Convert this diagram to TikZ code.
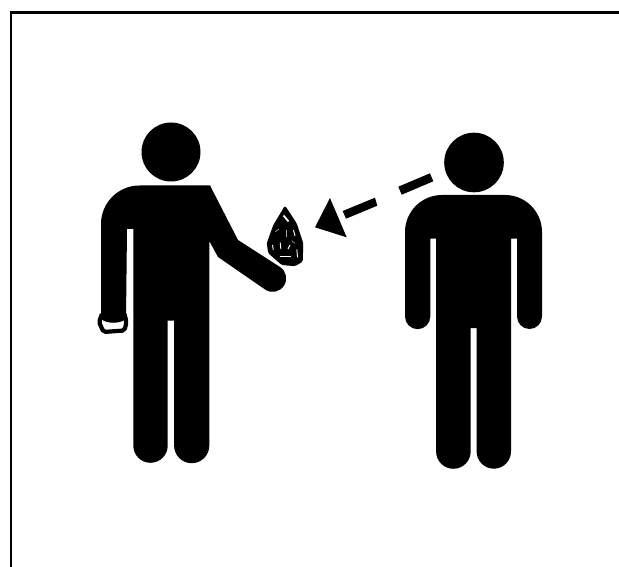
\documentclass[tikz,border=0pt]{standalone}
\tikzset{
  ink/.style={fill=black,draw=none},
  frameline/.style={draw=black,line width=2.6pt,line cap=butt,line join=miter},
  gemmark/.style={draw=white,line width=0.9pt,line cap=butt},
  faintmark/.style={draw=white!65!black,line width=0.6pt,line cap=butt},
  cuff/.style={draw=black,fill=white,line width=4.2pt,line join=round,rounded corners=2pt}
}
\begin{document}
\begin{tikzpicture}[x=1pt,y=-1pt]
\useasboundingbox (0,0) rectangle (619,567);
\fill[white] (0,0) rectangle (619,567);
% frame
\coordinate (fbl) at (10.8,567);
\coordinate (ftl) at (10.8,12.5);
\coordinate (ftr) at (619,12.5);
\draw[frameline] (fbl) -- (ftl) -- (ftr);
% left person
\fill[ink] (171,152) circle (29.5);
\draw[cuff] (102,314) -- (99,322) -- (103.5,332) -- (124.5,330.5) -- (126.5,322) -- (124.5,314);
\fill[ink] (101,224) arc[start angle=180,end angle=270,radius=38.5] -- (210,185.5)
  -- (238,240) -- (280,267)
  arc[start angle=-57,end angle=123,radius=13.5]
  -- (218,257) -- (209.3,241) -- (209.3,445.6)
  arc[start angle=0,end angle=180,radius=17.6]
  -- (174.1,320.7) -- (167.7,320.7) -- (167.7,445.6)
  arc[start angle=0,end angle=180,radius=17.2]
  -- (133.3,229) -- (127,229) -- (126,319)
  .. controls (120,324) and (107,324) .. (101,319) -- cycle;
% gem
\fill[ink,rounded corners=1.5pt] (285,205.5) -- (296.7,223.3) -- (303.3,243.3) -- (302.7,261.7) -- (295,266.2)
  -- (281.7,265) -- (268.3,253.3) -- (266.7,243.3) -- (273.3,225) -- cycle;
\draw[white,line width=1.8pt] (283.5,215.5) -- (288.5,221.5);
\draw[gemmark] (293.5,230) -- (295,236);
\draw[gemmark] (272.5,245) -- (273.3,250);
\draw[gemmark] (280.2,242.5) -- (280.8,249);
\draw[gemmark] (279.5,256) -- (291,256);
\draw[gemmark] (296.8,249.5) -- (297.6,257.5);
\draw[faintmark] (286.7,230) -- (286.7,236.5);
\draw[faintmark] (275,232) -- (279,229);
\draw[gemmark] (290,245) -- (288,249);
\draw[faintmark] (291.7,240.7) -- (295,243.3);
% arrow
\fill[ink] (330,198) -- (315,227.3) -- (346.7,237.3) -- cycle;
\fill[ink] (375,197.7) -- (377.3,205.7) -- (346,218.7) -- (342.7,211) -- cycle;
\fill[ink] (430,173.3) -- (433.3,181.3) -- (401.7,194.7) -- (398.3,186.7) -- cycle;
% right person
\fill[ink] (474,162.5) circle (29.8);
\fill[ink] (405,232) arc[start angle=180,end angle=270,radius=37] -- (505,195)
  arc[start angle=270,end angle=360,radius=37] -- (542,316.5)
  arc[start angle=0,end angle=180,radius=12.5] -- (517,238.7) -- (511,238.7) -- (511,451.5)
  arc[start angle=0,end angle=180,radius=17.2]
  -- (476.7,328) -- (470.7,328) -- (470.7,451.5)
  arc[start angle=0,end angle=180,radius=17.3]
  -- (436.1,238.7) -- (430.3,238.7) -- (430.3,316.5)
  arc[start angle=0,end angle=180,radius=12.65] -- cycle;
\end{tikzpicture}
\end{document}
